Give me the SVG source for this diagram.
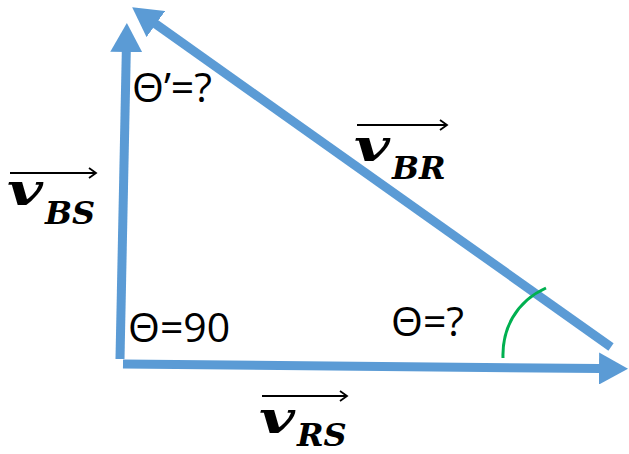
<svg xmlns="http://www.w3.org/2000/svg" width="629" height="454" viewBox="0 0 629 454">
  <style>
    .vec { stroke: #5b9bd5; stroke-width: 9; fill: none; stroke-linecap: butt; }
    .ang { font-family: "Open Sans", "Liberation Sans", sans-serif; font-size: 41px; fill: #000; }
    .vsym { font-family: "DejaVu Serif", "Liberation Serif", serif; font-weight: bold; font-style: italic; font-size: 45px; fill: #000; }
    .vsub { font-family: "DejaVu Serif", "Liberation Serif", serif; font-weight: bold; font-style: italic; font-size: 32px; fill: #000; }
    .over { stroke: #000; stroke-width: 2; fill: none; }
    .arc { stroke: #00b050; stroke-width: 3; fill: none; }
  </style>
  <defs>
    <marker id="bhead" markerUnits="userSpaceOnUse" markerWidth="30" markerHeight="32" refX="1" refY="16" orient="auto">
      <path d="M0,0 L29,16 L0,32 Z" fill="#5b9bd5"/>
    </marker>
    <marker id="khead" markerUnits="userSpaceOnUse" markerWidth="10" markerHeight="12" refX="8" refY="6" orient="auto">
      <path d="M1,1 L8,6 L1,11" fill="none" stroke="#000" stroke-width="1.8"/>
    </marker>
  </defs>

  <g id="connectors">
    <line id="v-RS" class="vec" x1="123" y1="364" x2="600" y2="368.5" marker-end="url(#bhead)"/>
    <line id="v-BS" class="vec" x1="120" y1="359" x2="126.3" y2="51" marker-end="url(#bhead)"/>
    <line id="v-BR" class="vec" x1="611" y1="347" x2="155" y2="23.5" marker-end="url(#bhead)"/>
    <path id="angle-arc" class="arc" d="M503 358 C502 330 515 302 546 288"/>
  </g>

  <g id="label-theta-prime">
    <text class="ang" x="132" y="102">Θ’=?</text>
  </g>
  <g id="label-theta-90">
    <text class="ang" x="128" y="342">Θ=90</text>
  </g>
  <g id="label-theta">
    <text class="ang" x="391" y="336">Θ=?</text>
  </g>

  <g id="label-vBS">
    <line class="over" x1="10" y1="173" x2="96" y2="173" marker-end="url(#khead)"/>
    <text x="7" y="205"><tspan class="vsym" textLength="36" lengthAdjust="spacingAndGlyphs">v</tspan><tspan class="vsub" x="45" y="224">BS</tspan></text>
  </g>
  <g id="label-vBR">
    <line class="over" x1="357" y1="125" x2="447" y2="125" marker-end="url(#khead)"/>
    <text x="354" y="161"><tspan class="vsym" textLength="36" lengthAdjust="spacingAndGlyphs">v</tspan><tspan class="vsub" x="392" y="179">BR</tspan></text>
  </g>
  <g id="label-vRS">
    <line class="over" x1="262" y1="396" x2="347" y2="396" marker-end="url(#khead)"/>
    <text x="259" y="433"><tspan class="vsym" textLength="36" lengthAdjust="spacingAndGlyphs">v</tspan><tspan class="vsub" x="297" y="446">RS</tspan></text>
  </g>
</svg>
